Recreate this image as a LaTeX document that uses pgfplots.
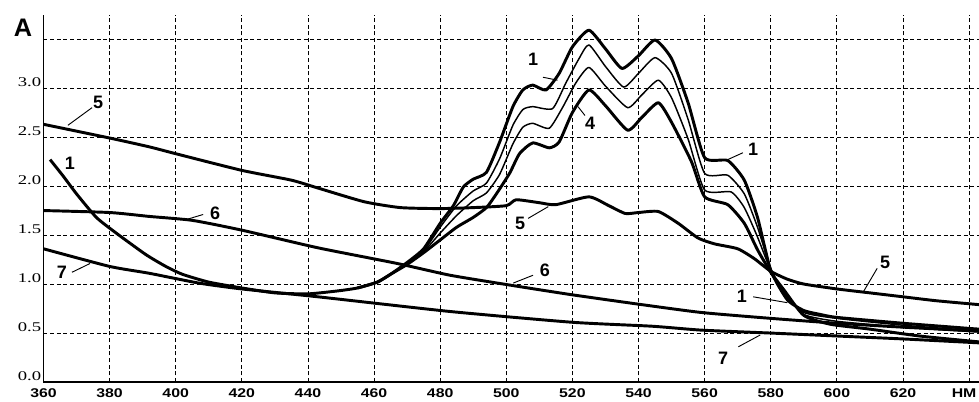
\documentclass[border=0pt]{standalone}
\usepackage{fontspec}
\setmainfont{Liberation Sans}
\newfontfamily\seriffont{Liberation Serif}
\usepackage{pgfplots}
\pgfplotsset{compat=1.18}

\newcommand{\lbl}{\fontsize{13.5}{14}\selectfont\bfseries}

\begin{document}
\begin{tikzpicture}
\begin{axis}[
  scale only axis,
  width=701.5pt, height=275.6pt,
  xmin=360, xmax=643, ymin=0, ymax=3.75,
  axis x line=bottom, axis y line=left,
  axis line style={-, line width=0.9pt},
  xtick={360,380,...,640},
  xticklabels={360,380,400,420,440,460,480,500,520,540,560,580,600,620,{HM\hspace*{6pt}}},
  ytick={0,0.5,1,1.5,2,2.5,3,3.5},
  yticklabels={0.0,0.5,1.0,1.5,2.0,2.5,3.0,{}},
  major tick length=0pt,
  grid=major,
  grid style={densely dashed, line width=0.6pt, black},
  xticklabel style={font=\fontsize{9.5}{10}\selectfont\bfseries, anchor=north, inner sep=0pt, yshift=-4.5pt, xscale=1.25},
  yticklabel style={font=\seriffont\fontsize{10}{11}\selectfont, anchor=south east, inner sep=1pt, xscale=1.4},
  clip=false,
  every axis plot/.append style={line join=round, black, smooth, tension=0.35},
]
\coordinate (bl) at (rel axis cs:0,0);
\coordinate (tr) at (rel axis cs:1,1);

% curve 1
\addplot[line width=2.2pt] coordinates {
(362,2.27)(366,2.10)(370,1.92)(376,1.68)(382,1.52)(391,1.30)(397,1.18)(402,1.10)
(410,1.02)(420,0.96)(430,0.91)(440,0.90)(449,0.93)(455,0.96)(461,1.02)(465,1.10)
(470,1.22)(475,1.36)(480,1.62)(484,1.80)(487,1.99)(490,2.07)(494,2.14)(498,2.45)
(502,2.81)(505,2.98)(508,3.03)(512,2.98)(516,3.15)(520,3.42)(525,3.59)(530,3.40)
(535,3.20)(540,3.33)(545,3.49)(550,3.30)(555,2.85)(560,2.29)(567,2.26)(572,2.06)
(576,1.68)(580,1.14)(585,0.84)(590,0.73)(595,0.69)(600,0.66)(620,0.60)(643,0.54)
};
% curve 2
\addplot[line width=1.1pt] coordinates {
(455,0.96)(461,1.02)(465,1.10)(470,1.21)(475,1.34)(480,1.58)(485,1.80)(490,1.95)
(494,2.03)(498,2.28)(502,2.62)(505,2.78)(508,2.81)(514,2.79)(518,3.05)(522,3.30)
(525,3.44)(530,3.22)(535.5,3.01)(540,3.15)(545,3.31)(550,3.15)(555,2.68)(560,2.13)
(567,2.11)(572,1.92)(576,1.58)(580,1.16)(584,0.90)(590,0.71)(600,0.65)(620,0.58)(643,0.52)
};
% curve 3
\addplot[line width=1.1pt] coordinates {
(455,0.96)(461,1.02)(465,1.10)(470,1.21)(475,1.33)(480,1.52)(485,1.70)(490,1.85)
(494,1.93)(498,2.12)(502,2.43)(505,2.60)(508,2.64)(513,2.59)(517,2.80)(521,3.05)
(525,3.21)(530,3.02)(536.7,2.80)(541,2.93)(546,3.08)(550,2.90)(555,2.48)(560,1.96)
(568,1.94)(572,1.78)(576,1.48)(580,1.14)(584,0.92)(590,0.69)(600,0.62)(620,0.56)(643,0.51)
};
% curve 4
\addplot[line width=2.2pt] coordinates {
(455,0.96)(461,1.02)(465,1.10)(470,1.20)(475,1.32)(480,1.45)(485,1.58)(490,1.68)
(494,1.78)(497,1.92)(501,2.13)(504,2.33)(508,2.44)(513,2.39)(516,2.45)(520,2.75)
(525,2.98)(530,2.82)(536.7,2.57)(541,2.70)(546,2.85)(550,2.65)(556,2.25)(560,1.89)
(567,1.81)(572,1.62)(576,1.35)(580,1.12)(584,0.94)(590,0.68)(598,0.59)(610,0.54)
(625,0.47)(643,0.41)
};
% curve 5
\addplot[line width=2.2pt] coordinates {
(360,2.63)(380,2.49)(392,2.40)(400,2.33)(420,2.16)(435,2.06)(443,1.98)(457,1.84)
(468,1.78)(480,1.77)(490,1.78)(500,1.80)(503,1.86)(510,1.83)(515,1.81)(525,1.89)
(531,1.80)(536,1.72)(540,1.73)(546,1.74)(552,1.62)(558,1.47)(563,1.41)(570,1.36)
(575,1.26)(580,1.13)(585,1.05)(590,1.00)(600,0.95)(610,0.91)(620,0.87)(630,0.83)(643,0.79)
};
% curve 6
\addplot[line width=2.2pt] coordinates {
(360,1.75)(380,1.73)(392,1.69)(405,1.65)(420,1.55)(443,1.37)(467,1.21)(483,1.09)
(501,0.99)(520,0.89)(541,0.79)(559,0.71)(580,0.65)(600,0.60)(620,0.56)(643,0.52)
};
% curve 7
\addplot[line width=2.2pt] coordinates {
(360,1.36)(380,1.18)(392,1.11)(407,1.01)(420,0.95)(443,0.87)(483,0.72)(520,0.61)
(544,0.57)(559,0.53)(580,0.50)(600,0.47)(620,0.44)(643,0.40)
};

% labels and leaders
\node[font=\fontsize{19}{20}\selectfont\bfseries] at (axis cs:353.8,3.61) {A};
\node[font=\lbl] at (axis cs:376.5,2.85) {5};
\draw[line width=0.7pt] (axis cs:374.7,2.80) -- (axis cs:367.4,2.62);
\node[font=\lbl] at (axis cs:368.0,2.23) {1};
\node[font=\lbl] at (axis cs:411.9,1.72) {6};
\draw[line width=0.7pt] (axis cs:408.3,1.71) -- (axis cs:403.4,1.66);
\node[font=\lbl] at (axis cs:365.6,1.12) {7};
\draw[line width=0.7pt] (axis cs:368.6,1.12) -- (axis cs:374.1,1.21);
\node[font=\lbl] at (axis cs:508.1,3.29) {1};
\draw[line width=0.7pt] (axis cs:511.1,3.11) -- (axis cs:515.5,3.08);
\node[font=\lbl] at (axis cs:525.4,2.64) {4};
\draw[line width=0.7pt] (axis cs:523.8,2.72) -- (axis cs:521.7,2.81);
\node[font=\lbl] at (axis cs:574.7,2.37) {1};
\draw[line width=0.7pt] (axis cs:571.6,2.34) -- (axis cs:567.0,2.27);
\node[font=\lbl] at (axis cs:504.2,1.62) {5};
\draw[line width=0.7pt] (axis cs:506.6,1.67) -- (axis cs:512.7,1.79);
\node[font=\lbl] at (axis cs:511.7,1.14) {6};
\draw[line width=0.7pt] (axis cs:508.1,1.09) -- (axis cs:502.1,1.01);
\node[font=\lbl] at (axis cs:614.6,1.22) {5};
\draw[line width=0.7pt] (axis cs:612.2,1.16) -- (axis cs:608.0,0.92);
\node[font=\lbl] at (axis cs:571.3,0.87) {1};
\draw[line width=0.7pt] (axis cs:574.7,0.87) -- (axis cs:585.0,0.81);
\node[font=\lbl] at (axis cs:565.6,0.24) {7};
\draw[line width=0.7pt] (axis cs:570.2,0.36) -- (axis cs:576.8,0.48);
\end{axis}
\pgfresetboundingbox
\path[use as bounding box] ([shift={(-32.6pt,-14.25pt)}]bl) rectangle ([shift={(0pt,10.9pt)}]tr);
\end{tikzpicture}
\end{document}
